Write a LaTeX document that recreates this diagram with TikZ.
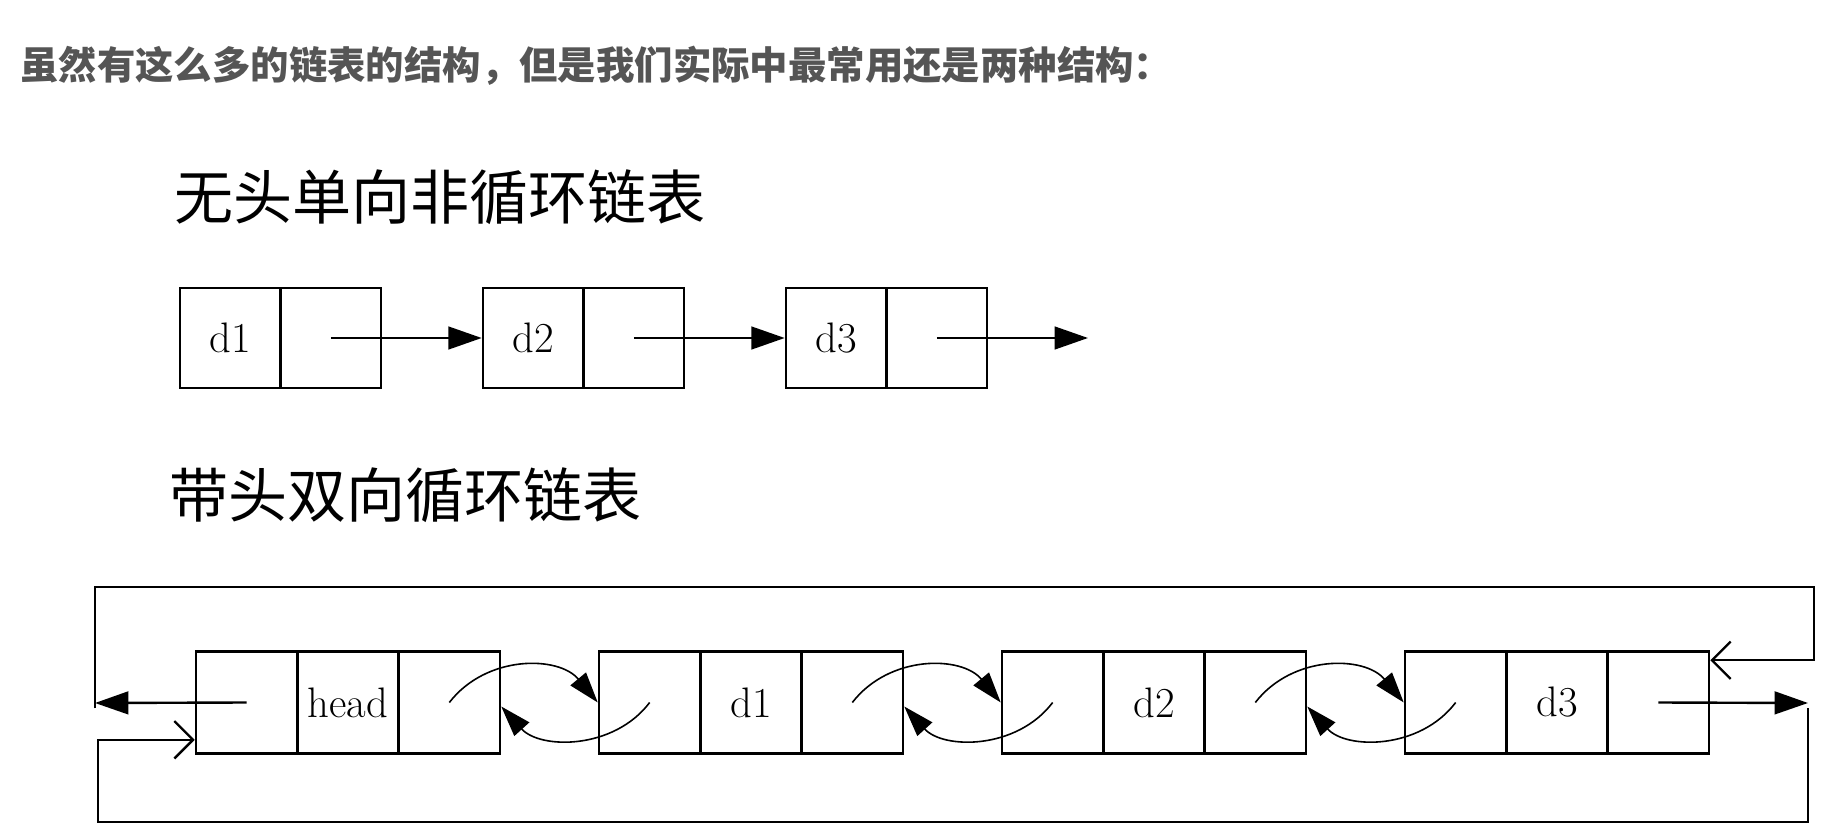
\documentclass[tikz,border=0pt]{standalone}
\usepackage{fontspec}
\usetikzlibrary{arrows.meta}
\newfontfamily\cjk{Noto Sans CJK SC}
\definecolor{hdr}{RGB}{85,85,85}
\begin{document}
\begin{tikzpicture}[x=0.75pt,y=-0.75pt,
  cellA/.style={draw, line width=1.9pt, minimum width=75.4pt, minimum height=75pt, inner sep=0pt, font=\fontsize{32}{32}\selectfont},
  cellB/.style={draw, line width=1.9pt, minimum width=76pt, minimum height=76.5pt, inner sep=0pt, font=\fontsize{32}{32}\selectfont},
  arr/.style={line width=1.8pt, -{Triangle[length=25pt,width=17pt]}},
  carr/.style={line width=1.2pt, -{Triangle[length=23pt,width=15pt]}},
  oarr/.style={line width=1.8pt, -{Straight Barb[length=14pt,width=28pt]}},
  hdrtext/.style={anchor=west, inner sep=0pt, text=hdr, font=\cjk\bfseries\fontsize{28.8}{30}\selectfont},
  ttext/.style={anchor=west, inner sep=0pt, font=\cjk\fontsize{44.3}{46}\selectfont},
]
\useasboundingbox[fill=white] (0,0) rectangle (1821,827);

\node[hdrtext] (hd) at (20,66) {虽然有这么多的链表的结构，但是我们实际中最常用还是两种结构：};
\node[ttext] (t1) at (174,197) {无头单向非循环链表};
\node[ttext] (t2) at (169,495) {带头双向循环链表};

% Row 1
\node[cellA] (a1) at (230.25,338) {d1};
\node[cellA] (b1) at (330.75,338) {};
\node[cellA] (a2) at (533.25,338) {d2};
\node[cellA] (b2) at (633.75,338) {};
\node[cellA] (a3) at (836.25,338) {d3};
\node[cellA] (b3) at (936.75,338) {};
\coordinate (e1) at (1088,338);
\draw[arr] (b1.center) -- (a2.west);
\draw[arr] (b2.center) -- (a3.west);
\draw[arr] (b3.center) -- (e1);

% Row 2
\node[cellB] (h1) at (246.67,702.5) {};
\node[cellB] (h2) at (348,702.5) {head};
\node[cellB] (h3) at (449.33,702.5) {};
\node[cellB] (p1) at (649.67,702.5) {};
\node[cellB] (p2) at (751,702.5) {d1};
\node[cellB] (p3) at (852.33,702.5) {};
\node[cellB] (q1) at (1052.67,702.5) {};
\node[cellB] (q2) at (1154,702.5) {d2};
\node[cellB] (q3) at (1255.33,702.5) {};
\node[cellB] (r1) at (1455.67,702.5) {};
\node[cellB] (r2) at (1557,702.5) {d3};
\node[cellB] (r3) at (1658.33,702.5) {};

% curved links
\draw[carr] (h3.center) .. controls +(37,-48) and +(-39,-47) .. (p1.west);
\draw[carr] (p1.center) .. controls +(-36,47.5) and +(39,43) .. ([yshift=-3pt]h3.east);
\draw[carr] (p3.center) .. controls +(37,-48) and +(-39,-47) .. (q1.west);
\draw[carr] (q1.center) .. controls +(-36,47.5) and +(39,43) .. ([yshift=-3pt]p3.east);
\draw[carr] (q3.center) .. controls +(37,-48) and +(-39,-47) .. (r1.west);
\draw[carr] (r1.center) .. controls +(-36,47.5) and +(39,43) .. ([yshift=-3pt]q3.east);

% loops
\coordinate (L) at (95,703);
\coordinate (R) at (1808,703);
\draw[arr] (h1.center) -- (L);
\draw[arr] (r3.center) -- (R);
\draw[oarr] ([yshift=-4pt]L) |- (1814,587) |- ([yshift=-7.5pt]r3.north east);
\draw[oarr] ([yshift=-4pt]R) |- (98,822) |- ([yshift=11.25pt]h1.south west);
\end{tikzpicture}
\end{document}
